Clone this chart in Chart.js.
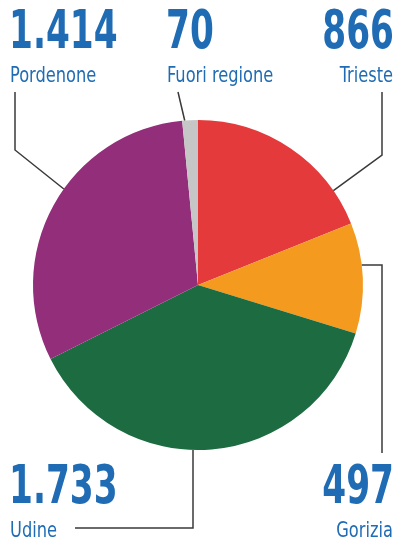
<!DOCTYPE html>
<html>
<head>
<meta charset="utf-8">
<script src="https://cdn.jsdelivr.net/npm/chart.js@4/dist/chart.umd.min.js"></script>
<style>
  html, body { margin: 0; padding: 0; background: #fff; }
  #wrap { width: 398px; height: 544px; position: relative; }
</style>
</head>
<body>
<div id="wrap"><canvas id="torta"></canvas></div>
<script>
// dati
const province = ['Trieste', 'Gorizia', 'Udine', 'Pordenone', 'Fuori regione'];
const valori = [866, 497, 1733, 1414, 70];
const etichette = ['866', '497', '1.733', '1.414', '70'];
const colori = ['#e43a3c', '#f39a1f', '#1d6b40', '#922e7a', '#c6c6c6'];

// posizione etichette e linee di richiamo (frazione = punto sull'arco)
const layoutEtichette = [
  { frac: 0.81, align: 'right', x: 394, y: 48, path: [[382, 92], [382, 155]] },
  { frac: 0.74, align: 'right', x: 394, y: 503, path: [[382, 453], [382, 265]] },
  { frac: 0.55, align: 'left', x: 9, y: 503, path: [[75, 528], [193, 528]] },
  { frac: 0.56, align: 'left', x: 9, y: 48, path: [[15, 92], [15, 150]] },
  { frac: 0.16, align: 'left', x: 166, y: 48, path: [[178, 92]] }
];

const blu = '#1f6cb4';

// testo compresso in orizzontale (font condensato non disponibile)
function testoStretto(ctx, txt, x, y, sx, align) {
  ctx.save();
  ctx.translate(x, y);
  ctx.scale(sx, 1);
  ctx.textAlign = align;
  ctx.fillText(txt, 0, 0);
  ctx.restore();
}

const etichettePlugin = {
  id: 'etichette',
  afterDraw(chart) {
    const ctx = chart.ctx;
    const arcs = chart.getDatasetMeta(0).data;
    ctx.save();
    arcs.forEach((arc, i) => {
      const l = layoutEtichette[i];
      const a = arc.startAngle + (arc.endAngle - arc.startAngle) * l.frac;
      const ax = arc.x + arc.outerRadius * Math.cos(a);
      const ay = arc.y + arc.outerRadius * Math.sin(a);

      // linea di richiamo
      ctx.strokeStyle = '#3a3a3a';
      ctx.lineWidth = 1.5;
      ctx.beginPath();
      ctx.moveTo(l.path[0][0], l.path[0][1]);
      for (let k = 1; k < l.path.length; k++) ctx.lineTo(l.path[k][0], l.path[k][1]);
      if (i === 1) {
        ctx.lineTo(ax, l.path[l.path.length - 1][1]);
      } else if (i === 2) {
        ctx.lineTo(l.path[1][0], ay);
      } else {
        ctx.lineTo(ax, ay);
      }
      ctx.stroke();

      // numero
      ctx.fillStyle = blu;
      ctx.textBaseline = 'alphabetic';
      ctx.font = 'bold 53px "DejaVu Sans Condensed", "DejaVu Sans", sans-serif';
      testoStretto(ctx, etichette[i], l.x, l.y, 0.72, l.align);
      // nome
      ctx.font = '21px "DejaVu Sans Condensed", "DejaVu Sans", sans-serif';
      testoStretto(ctx, province[i], l.x + (l.align === 'right' ? -1 : 1), l.y + 34, 0.86, l.align);
    });
    ctx.restore();
  }
};

new Chart(document.getElementById('torta'), {
  type: 'pie',
  data: {
    labels: province,
    datasets: [{
      data: valori,
      backgroundColor: colori,
      borderWidth: 0
    }]
  },
  options: {
    responsive: true,
    maintainAspectRatio: false,
    animation: false,
    layout: { padding: { left: 33, right: 35, top: 120, bottom: 94 } },
    plugins: {
      legend: { display: false },
      tooltip: { enabled: false }
    }
  },
  plugins: [etichettePlugin]
});
</script>
</body>
</html>
